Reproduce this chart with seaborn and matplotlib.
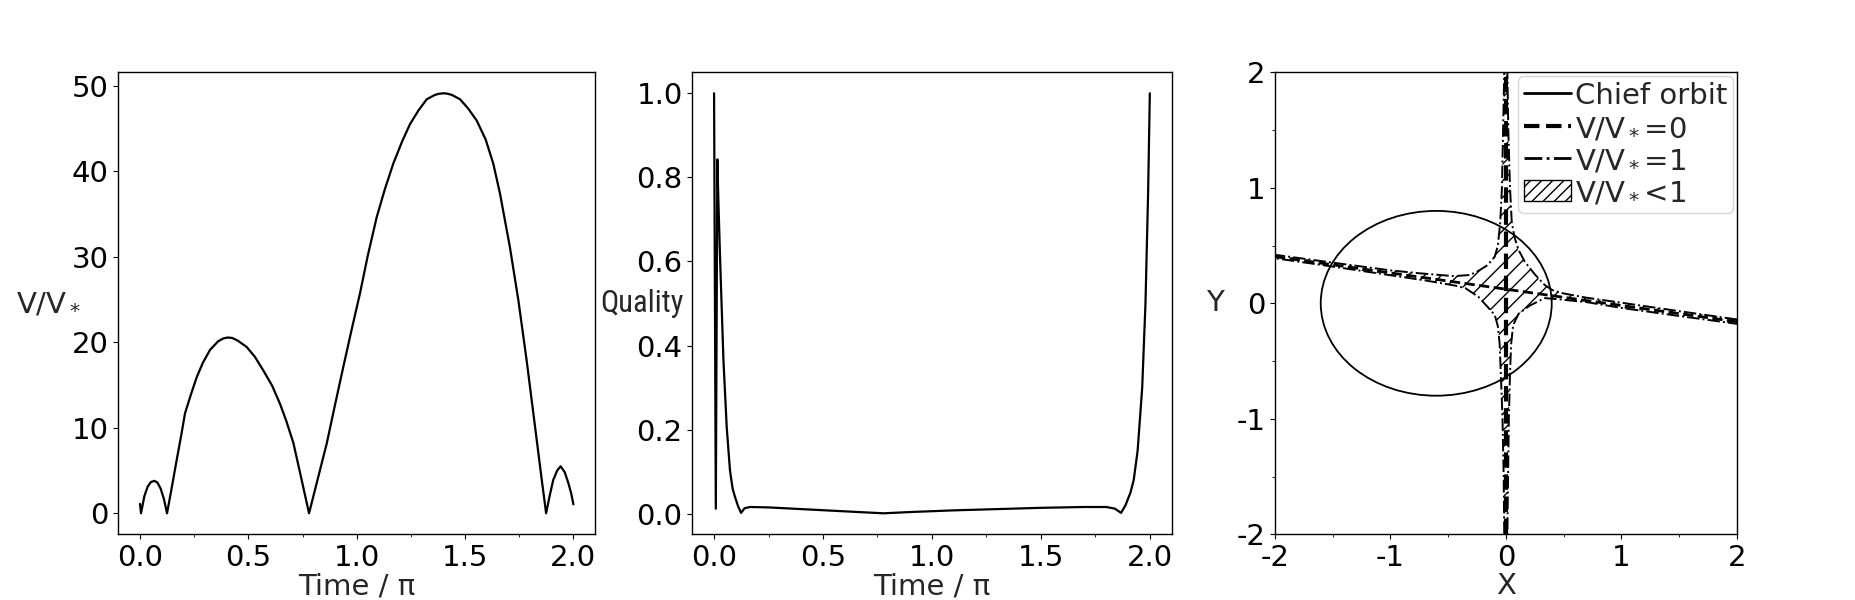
# -*- coding: utf-8 -*-

import matplotlib.pyplot as plt
from matplotlib.lines import Line2D
from matplotlib.patches import Ellipse, Patch
import seaborn as sns
import pandas as pd
import numpy as np

# ---- data ----
# panel 1: V/V* over one orbit
time_v = [0.0, 0.0046, 0.02, 0.035, 0.05, 0.066, 0.08, 0.095, 0.11, 0.1246,
          0.145, 0.169, 0.19, 0.2077, 0.235, 0.2615, 0.29, 0.323, 0.36, 0.385,
          0.405, 0.425, 0.45, 0.492, 0.53, 0.569, 0.61, 0.646, 0.675, 0.708,
          0.745, 0.78,
          0.82, 0.862, 0.9, 0.938, 0.975, 1.015, 1.05, 1.092, 1.13, 1.169, 1.21,
          1.246, 1.285, 1.323, 1.36, 1.38, 1.403, 1.42, 1.44, 1.477, 1.515, 1.554,
          1.595, 1.63, 1.661, 1.707, 1.746, 1.784, 1.823, 1.854, 1.874,
          1.89, 1.907, 1.925, 1.941, 1.96, 1.977, 1.99, 2.0]
vratio = [1.1, 0.0, 2.0, 3.1, 3.65, 3.8, 3.6, 2.9, 1.7, 0.0,
          2.8, 6.2, 9.1, 11.7, 13.9, 15.9, 17.6, 19.1, 20.1, 20.45,
          20.55, 20.5, 20.2, 19.45, 18.3, 16.7, 14.9, 12.8, 10.8, 8.2,
          4.0, 0.0,
          4.0, 8.2, 12.7, 17.1, 21.3, 25.7, 30.0, 34.6, 37.9, 40.9, 43.5,
          45.5, 47.1, 48.4, 48.9, 49.05, 49.1, 49.05, 48.9, 48.4, 47.3, 45.9,
          43.7, 40.9, 37.4, 31.1, 24.9, 17.9, 10.1, 3.9, 0.0,
          2.0, 3.9, 5.0, 5.5, 4.8, 3.5, 2.3, 1.05]

# panel 2: quality factor
time_q = [0.0, 0.008, 0.015, 0.02, 0.028, 0.043, 0.058, 0.073, 0.085, 0.096,
          0.11, 0.124, 0.14, 0.165, 0.25, 0.4, 0.55, 0.7, 0.778, 0.9,
          1.1, 1.3, 1.5, 1.7, 1.8, 1.84, 1.868, 1.888, 1.911, 1.926,
          1.944, 1.965, 1.98, 1.992, 2.0]
quality = [1.0, 0.012, 0.843, 0.74, 0.60, 0.365, 0.206, 0.103, 0.06, 0.04,
           0.018, 0.002, 0.013, 0.016, 0.015, 0.011, 0.007, 0.003, 0.001, 0.004,
           0.008, 0.011, 0.014, 0.016, 0.016, 0.012, 0.002, 0.02, 0.05, 0.08,
           0.15, 0.3, 0.5, 0.76, 1.0]

# panel 3: chief orbit ellipse (centre, semi-axes)
orbit_cx, orbit_cy = -0.604, 0.0
orbit_a, orbit_b = 1.0, 0.8

# V/V*=0 lines
zero_v_x = [-0.003, -0.003]
zero_v_y = [-2.0, 2.0]
zero_s_x = [-2.0, 2.0]
zero_s_y = [0.404, -0.160]

# V/V*<1 region boundary (V/V*=1 contour)
region_x = [2.0, 1.5, 1.0, 0.7, 0.5, 0.4, 0.336, 0.25, 0.163, 0.11, 0.076, 0.05,
            0.035, 0.02, 0.012, -0.015, -0.025, -0.035, -0.05, -0.07, -0.097,
            -0.16, -0.24, -0.313, -0.45, -0.75, -1.0, -1.5, -2.0, -2.0, -1.5,
            -1.0, -0.7, -0.45, -0.35, -0.24, -0.16, -0.097, -0.07, -0.055, -0.045,
            -0.03, -0.02, -0.015, 0.012, 0.018, 0.025, 0.035, 0.045, 0.062, 0.11,
            0.206, 0.336, 0.45, 0.7, 1.0, 1.5, 2.0]
region_y = [-0.140, -0.068, 0.005, 0.048, 0.085, 0.115, 0.158, 0.25, 0.36, 0.46,
            0.563, 0.7, 1.0, 1.5, 2.0, 2.0, 1.5, 1.0, 0.7, 0.5, 0.404,
            0.33, 0.28, 0.245, 0.235, 0.26, 0.285, 0.352, 0.42, 0.39, 0.318,
            0.243, 0.198, 0.155, 0.13, 0.057, -0.03, -0.101, -0.2, -0.35, -0.6,
            -1.0, -1.5, -2.0, -2.0, -1.5, -1.0, -0.6, -0.35, -0.188, -0.09,
            -0.02, 0.045, 0.035, 0.01, -0.04, -0.11, -0.178]

fontSize = 21
sns.set_style("ticks")
plt.rcParams['font.family'] = ['DejaVu Sans']
plt.rcParams['axes.unicode_minus'] = False
plt.rcParams['axes.linewidth'] = 1.0
plt.rcParams['axes.edgecolor'] = 'black'
plt.rcParams['xtick.color'] = 'black'
plt.rcParams['ytick.color'] = 'black'
plt.rcParams['xtick.major.size'] = 3.5
plt.rcParams['ytick.major.size'] = 3.5
plt.rcParams['xtick.minor.size'] = 2
plt.rcParams['ytick.minor.size'] = 2
plt.rcParams['hatch.linewidth'] = 1.0

fig = plt.figure(figsize=(18.55, 6), dpi=100)
ax1 = fig.add_axes([0.0638, 0.1095, 0.257, 0.77])
ax2 = fig.add_axes([0.3732, 0.1095, 0.2584, 0.77])
ax3 = fig.add_axes([0.6871, 0.1095, 0.2495, 0.77])

df1 = pd.DataFrame({'t': time_v, 'v': vratio})
sns.lineplot(data=df1, x='t', y='v', color='black', lw=1.6, ax=ax1)
df2 = pd.DataFrame({'t': time_q, 'q': quality})
sns.lineplot(data=df2, x='t', y='q', color='black', lw=1.6, ax=ax2, sort=False,
             estimator=None)

for ax in (ax1, ax2):
    ax.set_xticks([0.0, 0.5, 1.0, 1.5, 2.0])
    ax.set_xticks([0.25, 0.75, 1.25, 1.75], minor=True)
    ax.tick_params(labelsize=fontSize)
    ax.set_xlabel('Time / π', fontsize=fontSize, labelpad=0)

ax1.set_yticks([0, 10, 20, 30, 40, 50])
ax1.set_ylabel(r'V/V$_*$', fontsize=fontSize, rotation=0, ha='center', va='center')
ax1.yaxis.set_label_coords(-0.147, 0.5)

ax2.set_yticks([0.0, 0.2, 0.4, 0.6, 0.8, 1.0])
ax2.set_ylabel('Quality', fontsize=22, rotation=0, ha='center', va='center',
               family=['Roboto Condensed', 'DejaVu Sans'])
ax2.yaxis.set_label_coords(-0.105, 0.5)

# panel 3
ax3.add_patch(Ellipse((orbit_cx, orbit_cy), 2 * orbit_a, 2 * orbit_b,
                      fill=False, ec='black', lw=1.3))
ax3.fill(region_x, region_y, facecolor='none', edgecolor='black', hatch='//',
         linestyle='-.', lw=1.4)
ax3.plot(zero_v_x, zero_v_y, color='black', ls='--', lw=3)
ax3.plot(zero_s_x, zero_s_y, color='black', ls='--', lw=2)
ax3.set_xlim(-2, 2)
ax3.set_ylim(-2, 2)
ax3.set_aspect('equal')
ax3.set_xticks([-2, -1, 0, 1, 2])
ax3.set_yticks([-2, -1, 0, 1, 2])
ax3.set_xticks([-1.5, -0.5, 0.5, 1.5], minor=True)
ax3.set_yticks([-1.5, -0.5, 0.5, 1.5], minor=True)
ax3.tick_params(labelsize=fontSize)
ax3.set_xlabel('X', fontsize=fontSize, labelpad=0)
ax3.set_ylabel('Y', fontsize=fontSize, rotation=0, ha='center', va='center')
ax3.yaxis.set_label_coords(-0.129, 0.5)

handles = [Line2D([], [], color='black', lw=2, ls='-'),
           Line2D([], [], color='black', lw=3, ls='--'),
           Line2D([], [], color='black', lw=2, ls='-.'),
           Patch(facecolor='white', edgecolor='black', hatch='///')]
labels = ['Chief orbit', r'V/V$_*$=0', r'V/V$_*$=1', r'V/V$_*$<1']
ax3.legend(handles, labels, loc='upper right', bbox_to_anchor=(1, 1),
           borderaxespad=0.12, fontsize=fontSize, handlelength=1.6,
           handletextpad=0.15, borderpad=0.2, labelspacing=0.15)

plt.savefig('out.png', dpi=100)
